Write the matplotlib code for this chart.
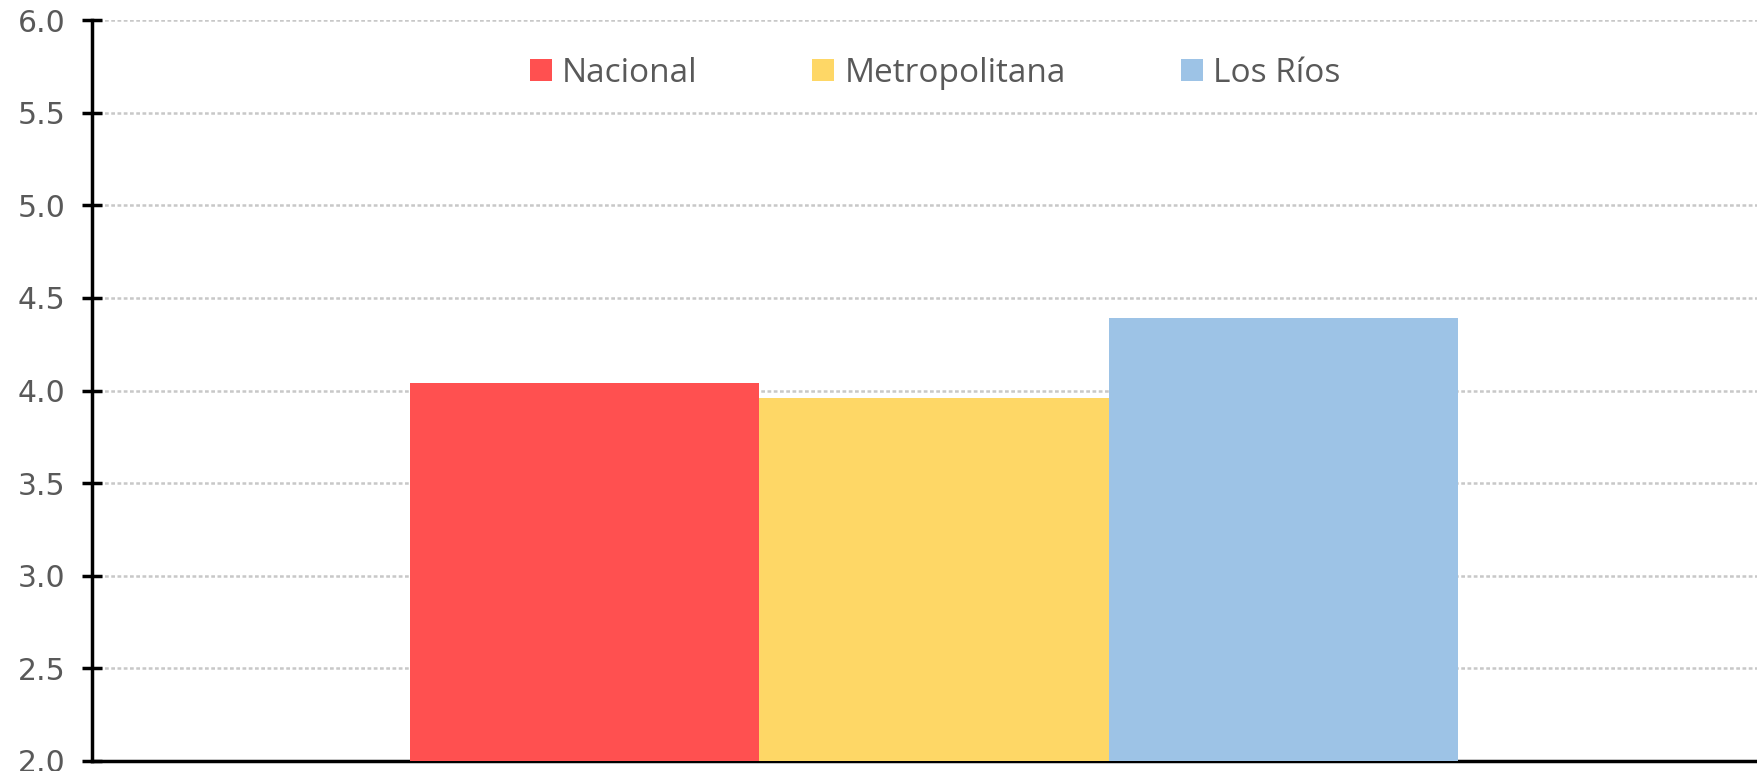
import matplotlib
matplotlib.use("Agg")
import matplotlib.pyplot as plt
from matplotlib.patches import Patch

series = ["Nacional", "Metropolitana", "Los Ríos"]
values = [4.04, 3.96, 4.39]
colors = ["#FF5050", "#FED766", "#9DC3E6"]
yticks = [2.0, 2.5, 3.0, 3.5, 4.0, 4.5, 5.0, 5.5, 6.0]

plt.rcParams["font.family"] = ["Open Sans", "DejaVu Sans"]

fig = plt.figure(figsize=(17.58, 7.71), dpi=100)
ax = fig.add_axes([92/1758, 1 - 761/771, 1 - 92/1758, (761 - 20)/771])

w = 0.2095
n = len(series)
for i, (s, v, c) in enumerate(zip(series, values, colors)):
    x = (i - (n - 1) / 2) * w
    ax.bar(x, v - 2.0, bottom=2.0, width=w, color=c, label=s, zorder=3)

ax.set_xlim(-0.5054, 0.4946)
ax.set_ylim(2.0, 6.0)
ax.set_yticks(yticks)
ax.set_yticklabels([f"{t:.1f}" for t in yticks], fontsize=21.5, color="#595959",
                   family=["DejaVu Sans"])
ax.set_xticks([])
ax.yaxis.grid(True, color="#c8c8c8", linewidth=1.8, linestyle=(0, (1.5, 1)), zorder=0)
ax.set_axisbelow(True)

for sp in ["top", "right"]:
    ax.spines[sp].set_visible(False)
for sp in ["left", "bottom"]:
    ax.spines[sp].set_linewidth(2.5)
    ax.spines[sp].set_color("black")
ax.tick_params(axis="y", direction="inout", length=14, width=2.5, pad=12)

handles = [Patch(facecolor=c, edgecolor="none") for c in colors]
ax.legend(handles, series, loc="center", bbox_to_anchor=(0.506, (771 - 68 - 15) / 741), ncol=3,
          frameon=False, fontsize=24, handlelength=0.66, handleheight=0.66,
          handletextpad=0.3, columnspacing=3.45, labelcolor="#595959")

fig.savefig("out.png", dpi=100)
